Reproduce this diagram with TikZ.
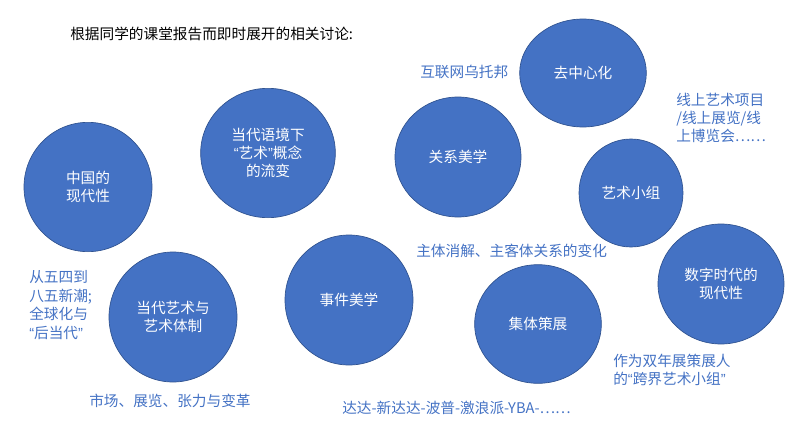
\documentclass[tikz,border=0pt]{standalone}
\usepackage{fontspec}
\setmainfont{Noto Sans CJK SC}
\newfontfamily\quotefont{Liberation Sans}
\usepackage{tikz}
\usetikzlibrary{shapes.geometric}
\definecolor{bubblefill}{HTML}{4472C4}
\definecolor{bubbleline}{HTML}{2F528F}
\definecolor{notetext}{HTML}{4472C4}
\newcommand{\openq}{{\quotefont “}}
\newcommand{\closeq}{{\quotefont ”}}

\tikzset{
  bubble/.style={ellipse, draw=bubbleline, fill=bubblefill, line width=0.5pt, text=white, align=center, inner sep=0pt, font=\fontsize{11}{13.5}\selectfont},
  note/.style={text=notetext, align=left, inner sep=0pt, anchor=west, font=\fontsize{11}{13.8}\selectfont}
}

\begin{document}
\begin{tikzpicture}[x=0.75pt, y=-0.75pt]
	\useasboundingbox (0,0) rectangle (800,421);

	\node[anchor=west, inner sep=0pt, font=\fontsize{11}{13.5}\selectfont] (title) at (70,34) {根据同学的课堂报告而即时展开的相关讨论:};

	\node[bubble, minimum width=96pt, minimum height=97pt] (modern) at (88,187) {中国的\\现代性};
	\node[bubble, minimum width=101pt, minimum height=97pt] (concept) at (268,153) {当代语境下\\\openq 艺术\closeq 概念\\的流变};
	\node[bubble, minimum width=94.5pt, minimum height=90pt] (relation) at (458,157) {关系美学};
	\node[bubble, minimum width=95pt, minimum height=81pt] (decentral) at (583,73) {去中心化};
	\node[bubble, minimum width=78pt, minimum height=81pt] (group) at (631,193) {艺术小组};
	\node[bubble, minimum width=96pt, minimum height=97.5pt] (system) at (173,317) {当代艺术与\\艺术体制};
	\node[bubble, minimum width=96pt, minimum height=97.5pt] (event) at (349,300) {事件美学};
	\node[bubble, minimum width=95pt, minimum height=89pt] (curate) at (538,324) {集体策展};
	\node[bubble, minimum width=94.5pt, minimum height=90pt] (digital) at (721,284) {数字时代的\\现代性};

	\node[note] (utopia) at (420,72) {互联网乌托邦};
	\node[note] (online) at (676,118) {线上艺术项目\\/线上展览/线\\上博览会……};
	\node[note] (subject) at (416,251) {主体消解、主客体关系的变化};
	\node[note] (history) at (29,305) {从五四到\\八五新潮;\\全球化与\\\openq 后当代\closeq};
	\node[note] (market) at (89,401) {市场、展览、张力与变革};
	\node[note] (dada) at (342,408) {达达-新达达-波普-激浪派-YBA-……};
	\node[note] (biennial) at (613,370) {作为双年展策展人\\的\openq 跨界艺术小组\closeq};
\end{tikzpicture}
\end{document}
